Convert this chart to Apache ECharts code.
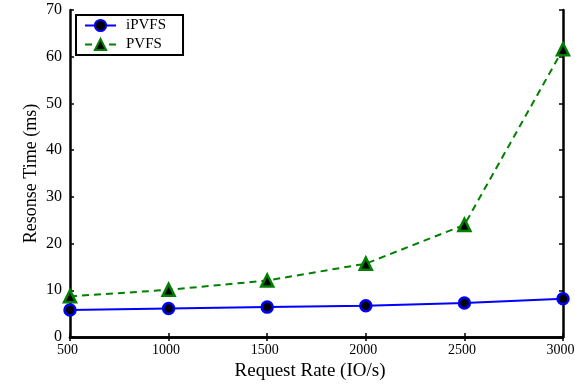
<!DOCTYPE html>
<html>
<head>
<meta charset="utf-8">
<script src="https://cdn.jsdelivr.net/npm/echarts@6/dist/echarts.min.js"></script>
<style>
  html, body { margin: 0; padding: 0; background: #fff; }
  #chart { width: 575px; height: 385px; }
</style>
</head>
<body>
<div id="chart"></div>
<script>
const rates = [500, 1000, 1500, 2000, 2500, 3000]
const ipvfs = [5.8, 6.1, 6.4, 6.7, 7.3, 8.2]
const pvfs = [8.7, 10.1, 12.1, 15.7, 24.0, 61.6]

const font = 'Liberation Serif'
const pairs = (ys) => rates.map((x, i) => [x, ys[i]])

const axisLine = { show: true, lineStyle: { color: '#000', width: 2.5 } }
const tick = { show: true, inside: true, length: 4, lineStyle: { color: '#000', width: 1.5 } }

const option = {
  animation: false,
  grid: { left: 70, right: 12, top: 10, bottom: 48, outerBoundsMode: 'none' },
  legend: {
    orient: 'vertical',
    left: 76,
    top: 15,
    padding: [3, 17, 3, 8],
    itemGap: 4,
    itemWidth: 31,
    itemHeight: 14,
    borderColor: '#000',
    borderWidth: 2,
    textStyle: { fontFamily: font, fontSize: 15, color: '#000', padding: [0, 0, 0, 5] },
    data: ['iPVFS', 'PVFS']
  },
  xAxis: [{
    type: 'value',
    min: 500, max: 3000, interval: 500,
    name: 'Request Rate (IO/s)',
    nameLocation: 'middle',
    nameGap: 24,
    nameTextStyle: { fontFamily: font, fontSize: 19, color: '#000', padding: [0, 13, 0, 0] },
    axisLine, axisTick: tick,
    axisLabel: { fontFamily: font, fontSize: 14, color: '#000', margin: 6, padding: [0, 5, 0, 0], formatter: (v) => String(v) },
    splitLine: { show: false }
  }, {
    type: 'value', position: 'top',
    min: 500, max: 3000, interval: 500,
    axisLine, axisTick: tick,
    axisLabel: { show: false }, splitLine: { show: false }
  }],
  yAxis: [{
    type: 'value',
    min: 0, max: 70, interval: 10,
    name: 'Resonse Time (ms)',
    nameLocation: 'middle',
    nameGap: 30,
    nameMoveOverlap: false,
    nameTextStyle: { fontFamily: font, fontSize: 18, color: '#000' },
    axisLine, axisTick: tick,
    axisLabel: { fontFamily: font, fontSize: 16, color: '#000', margin: 8 },
    splitLine: { show: false }
  }, {
    type: 'value', position: 'right',
    min: 0, max: 70, interval: 10,
    axisLine, axisTick: tick,
    axisLabel: { show: false }, splitLine: { show: false }
  }],
  series: [{
    name: 'iPVFS',
    type: 'line',
    data: pairs(ipvfs),
    symbol: 'circle',
    symbolSize: 11,
    itemStyle: { color: '#000', borderColor: '#0000ff', borderWidth: 2.5 },
    lineStyle: { color: '#0000ff', width: 2 },
    z: 3
  }, {
    name: 'PVFS',
    type: 'line',
    data: pairs(pvfs),
    symbol: 'triangle',
    symbolSize: 12,
    itemStyle: { color: '#000', borderColor: '#008000', borderWidth: 2.5 },
    lineStyle: { color: '#008000', width: 2, type: [7, 5] },
    z: 2
  }]
}

echarts.init(document.getElementById('chart')).setOption(option)
</script>
</body>
</html>
